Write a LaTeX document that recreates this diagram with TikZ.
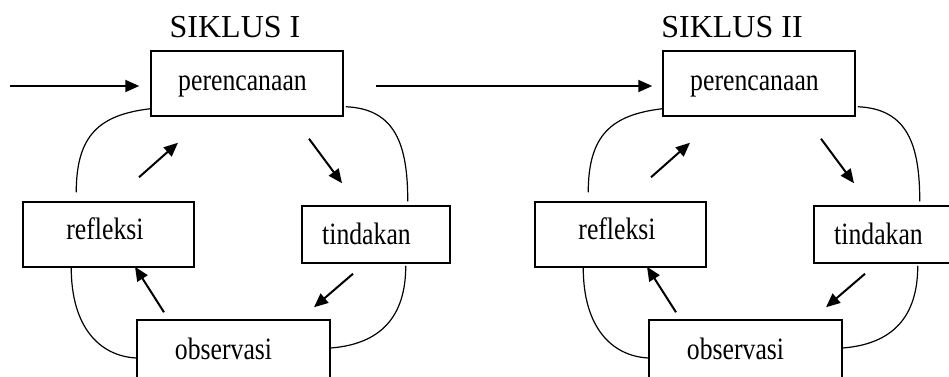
\documentclass[tikz,border=0pt]{standalone}
\usepackage{fontspec}
\setmainfont{Liberation Serif}
\newfontfamily\condfont[FakeStretch=0.83]{Liberation Serif}
\usetikzlibrary{arrows.meta,calc}
\begin{document}
\begin{tikzpicture}[x=1pt,y=1pt,
  box/.style={draw, line width=1.5pt, inner sep=0pt},
  lbl/.style={font=\condfont\fontsize{31}{37}\selectfont, anchor=base, inner sep=0pt},
  ttl/.style={font=\fontsize{32}{38}\selectfont, anchor=base, inner sep=0pt},
  arr/.style={line width=2pt, -{Triangle[length=14pt,width=12pt]}},
  loopline/.style={line width=1.2pt}]
\useasboundingbox (0,0) rectangle (949,376);
\clip (0,0) rectangle (949,376);
\node[ttl] (s1) at (235,339) {SIKLUS I};
\node[ttl] (s2) at (732,339) {SIKLUS II};
\foreach \i/\dx in {1/0,2/512}{
  \node[box, minimum width=192pt, minimum height=65pt] (p\i) at (\dx+247,292.5) {};
  \node[box, minimum width=171pt, minimum height=65pt] (r\i) at (\dx+108.5,141.5) {};
  \node[box, minimum width=148pt, minimum height=57pt] (t\i) at (\dx+376,141.5) {};
  \node[box, minimum width=193pt, minimum height=65pt] (o\i) at (\dx+233.5,23.5) {};
  \node[lbl] (pl\i) at (\dx+242.5,286) {perencanaan};
  \node[lbl] (rl\i) at (\dx+105,137) {refleksi};
  \node[lbl] (tl\i) at (\dx+366.5,132) {tindakan};
  \node[lbl] (ol\i) at (\dx+223.5,17) {observasi};
  % cycle arrows
  \draw[arr] ([xshift=62pt,yshift=-22pt]p\i.south) -- ([xshift=-34pt,yshift=22pt]t\i.north);
  \draw[arr] ([xshift=-23pt,yshift=-10pt]t\i.south) -- ([xshift=80.5pt,yshift=12pt]o\i.north);
  \draw[arr] ([xshift=-69.5pt,yshift=7pt]o\i.north) -- ([xshift=26.5pt,yshift=1pt]r\i.south);
  \draw[arr] ([xshift=30.5pt,yshift=24pt]r\i.north) -- ([xshift=-69pt,yshift=-26pt]p\i.south);
  % outer curves
  \draw[loopline] ([yshift=8pt]p\i.south west) .. controls +(-51,-6) and +(0,57) .. ([xshift=54pt,yshift=9pt]r\i.north west);
  \draw[loopline] ([xshift=2pt,yshift=10pt]p\i.south east) .. controls +(50,-2) and +(0,56) .. ([xshift=-43pt,yshift=4pt]t\i.north east);
  \draw[loopline] ([xshift=-45pt,yshift=-2pt]t\i.south east) .. controls +(0,-51) and +(50,4) .. ([yshift=4.5pt]o\i.east);
  \draw[loopline] ([xshift=49pt]r\i.south west) .. controls +(0,-59) and +(-37,2) .. ([yshift=-5.5pt]o\i.west);
}
\coordinate (in) at (10,290);
\draw[arr] (in) -- ([xshift=-11pt,yshift=-2.5pt]p1.west);
\draw[arr] ([xshift=32pt,yshift=-2.5pt]p1.east) -- ([xshift=-10pt,yshift=-2.5pt]p2.west);
\end{tikzpicture}
\end{document}
